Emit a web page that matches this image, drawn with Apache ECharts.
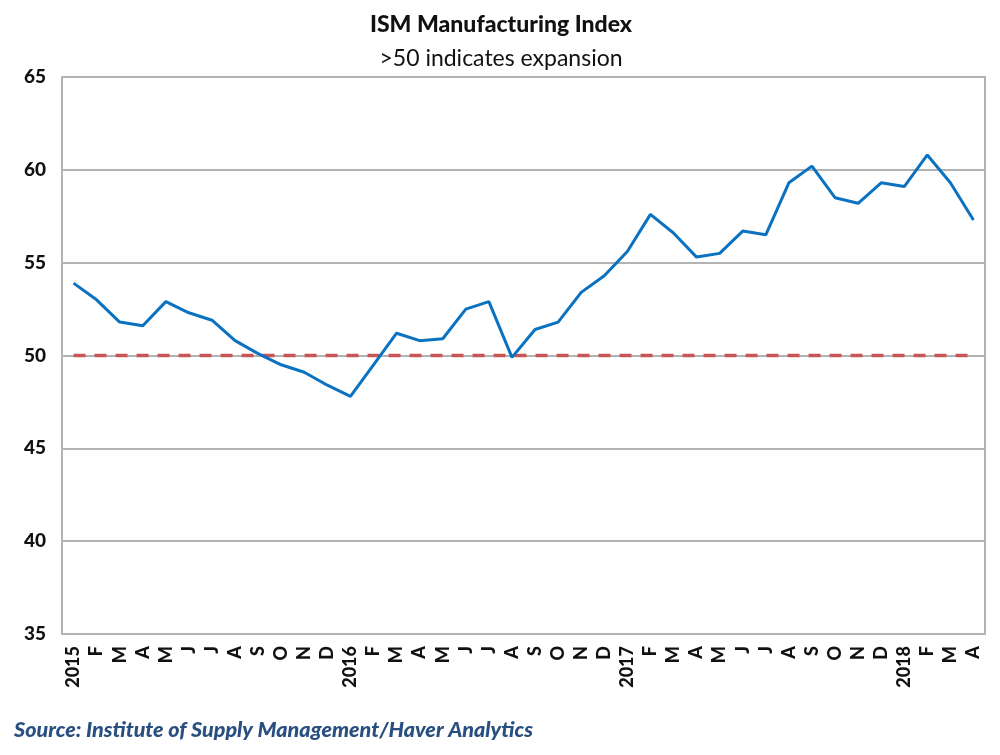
<!DOCTYPE html>
<html>
<head>
<meta charset="utf-8">
<script src="https://cdn.jsdelivr.net/npm/echarts@6/dist/echarts.min.js"></script>
<style>
html,body{margin:0;padding:0;background:#fff;}
#chart{width:1000px;height:755px;}
</style>
</head>
<body>
<div id="chart"></div>
<script>
const categories = ['2015','F','M','A','M','J','J','A','S','O','N','D',
  '2016','F','M','A','M','J','J','A','S','O','N','D',
  '2017','F','M','A','M','J','J','A','S','O','N','D',
  '2018','F','M','A'];
const ismValues = [53.9,53.0,51.8,51.6,52.9,52.3,51.9,50.8,50.1,49.5,49.1,48.4,
  47.8,49.5,51.2,50.8,50.9,52.5,52.9,49.9,51.4,51.8,53.4,54.3,
  55.6,57.6,56.6,55.3,55.5,56.7,56.5,59.3,60.2,58.5,58.2,59.3,
  59.1,60.8,59.3,57.3];
const thresholdValues = categories.map(() => 50);
const yTicks = {min: 35, max: 65, interval: 5};

const chart = echarts.init(document.getElementById('chart'));
chart.setOption({
  backgroundColor: '#fff',
  animation: false,
  title: [
    {text: 'ISM Manufacturing Index', left: 496, top: 8, textAlign: 'center',
     textStyle: {fontFamily: 'Lato', fontWeight: 900, fontSize: 23, color: '#111'}},
    {text: '>50 indicates expansion', left: 496, top: 42, textAlign: 'center',
     textStyle: {fontFamily: 'Lato', fontWeight: 'normal', fontSize: 23, color: '#111'}},
    {text: 'Source: Institute of Supply Management/Haver Analytics', left: 9, top: 714,
     textStyle: {fontFamily: 'Lato', fontWeight: 900, fontStyle: 'italic', fontSize: 21.5, color: '#284f80'}}
  ],
  grid: {left: 62, right: 15, top: 77, bottom: 121, containLabel: false,
    show: false},
  xAxis: {
    type: 'category', data: categories, boundaryGap: true,
    axisLine: {show: true, lineStyle: {color: '#b3b3b3', width: 2}},
    axisTick: {show: false},
    axisLabel: {rotate: 90, interval: 0, fontFamily: 'Lato', fontWeight: 900, fontSize: 18, color: '#111', margin: 12}
  },
  yAxis: [{
    type: 'value', min: yTicks.min, max: yTicks.max, interval: yTicks.interval,
    axisLine: {show: true, lineStyle: {color: '#b3b3b3', width: 2}},
    axisTick: {show: false},
    splitLine: {show: true, lineStyle: {color: '#b3b3b3', width: 2}},
    axisLabel: {fontFamily: 'Lato', fontWeight: 900, fontSize: 19, color: '#111', margin: 16}
  }, {
    type: 'value', min: yTicks.min, max: yTicks.max, interval: yTicks.interval, position: 'right',
    axisLine: {show: true, lineStyle: {color: '#b3b3b3', width: 2}},
    axisTick: {show: false}, axisLabel: {show: false}, splitLine: {show: false}
  }],
  series: [
    {type: 'line', data: thresholdValues, symbol: 'none', z: 2,
     lineStyle: {color: '#c85656', width: 3.5, type: [12, 9]}},
    {type: 'line', data: ismValues, symbol: 'none', z: 3,
     lineStyle: {color: '#0a72c0', width: 3}}
  ]
});
</script>
</body>
</html>
